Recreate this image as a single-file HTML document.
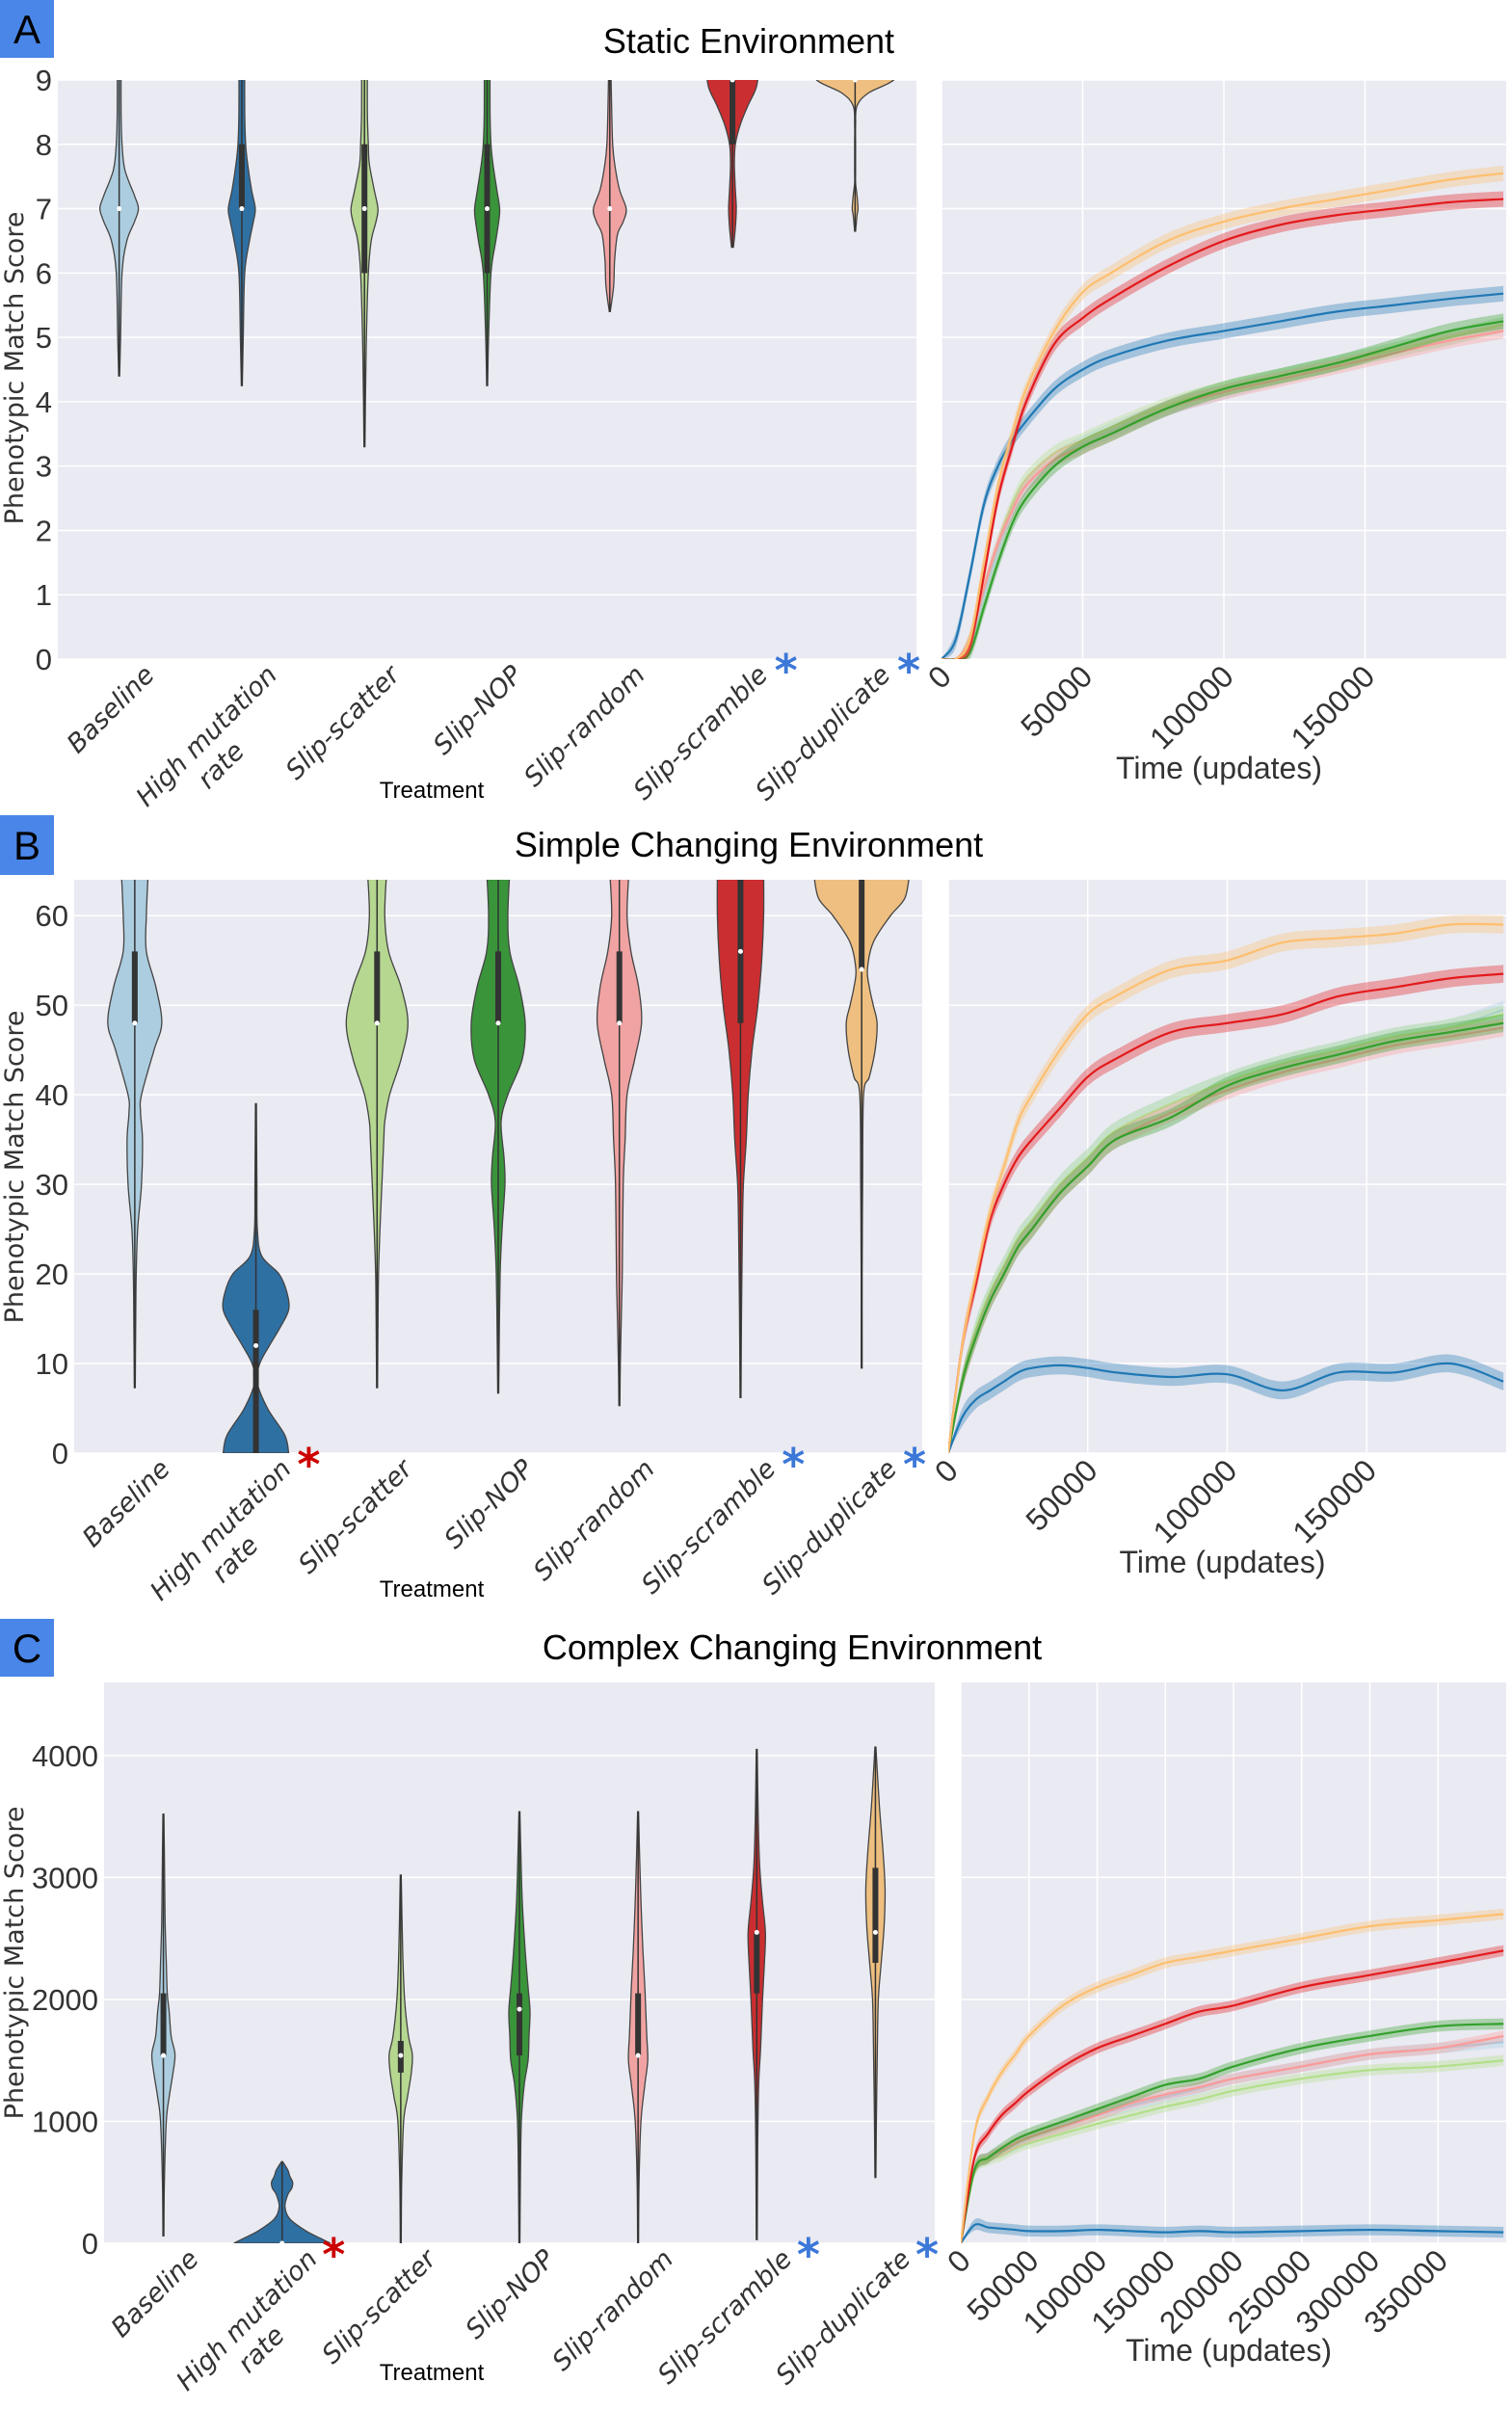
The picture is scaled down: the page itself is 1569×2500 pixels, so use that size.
<!DOCTYPE html>
<html><head><meta charset="utf-8"><style>
html,body{margin:0;padding:0;background:#fff;}
svg{display:block;}
.cond{font-family:"Liberation Sans Narrow","Liberation Sans",sans-serif;}
.dv{font-family:"DejaVu Sans","Liberation Sans",sans-serif;}
</style></head><body>
<svg id="fig" width="1569" height="2500" viewBox="0 0 1569 2500" xmlns="http://www.w3.org/2000/svg">
<g id="root"></g>
</svg>
<script>
// ---------- DATA ----------
const categories = ["Baseline","High mutation\nrate","Slip-scatter","Slip-NOP","Slip-random","Slip-scramble","Slip-duplicate"];
const colors = ["#a6cee3","#1f78b4","#b2df8a","#33a02c","#fb9a99","#e31a1c","#fdbf6f"];
const violinColors = ["#accddf","#2f70a3","#b5d790","#3a943a","#f0a3a2","#cb2e30","#eebf80"];

const aY = [
 [4.4,5,6,6.5,6.8,7,7.2,7.6,8,8.5,9.3],
 [4.25,5,6,6.5,6.8,7,7.3,7.7,8,8.5,9.3],
 [3.3,4,5,6,6.5,6.8,7,7.3,7.7,8,8.5,9.3],
 [4.25,5,6,6.5,6.8,7,7.3,7.7,8,8.5,9.3],
 [5.4,5.8,6.2,6.6,6.8,7,7.3,7.7,8,8.5,9.3],
 [6.4,6.7,7,7.3,7.7,8,8.3,8.6,8.9,9.3],
 [6.65,6.9,7,7.2,7.4,7.6,8,8.3,8.6,8.8,9,9.3]];
const aD = [
 [0.5,1.5,3,8,16,20,16,6,3,2,2],
 [0.5,1.5,3,8,12,14,10,6,4,3,3],
 [0.5,1,2,4,7,12,14,10,5,4,3,3],
 [0.5,1.5,4,9,12,13,10,6,4,3,3],
 [0.5,4,5,8,14,17,10,5,3,2,1],
 [1,3,4,3,2,3,8,16,25,28],
 [0.5,2,3,2,0.5,0.5,0.5,0.5,2,14,40,52]];
const aMed = [7,7,7,7,7,9,9];
const aQ1 = [7,7,6,6,7,8,9];
const aQ3 = [7,8,8,8,7,9,9];

const bY = [
 [7.3,15,20,25,30,35,38,40,45,48,52,56,60,65],
 [0,2,5,8,10,12,14,16,18,20,22,25,30,39],
 [7.3,15,20,25,30,35,37,40,44,48,52,56,60,65],
 [6.7,12,20,25,30,33,37,40,44,48,52,56,60,65],
 [5.3,10,15,20,30,35,40,44,48,52,56,60,65],
 [6.2,15,25,30,35,40,45,50,55,60,65],
 [9.5,20,30,40,42,45,48,50,52,54,57,60,62,65]];
const bD = [
 [0.5,1,1.5,3,7,8,6,7,20,28,22,12,12,14],
 [34,30,12,1,4,14,25,34,32,24,6,1.5,1,0.5],
 [0.5,1,1.5,3,5,7,8,13,25,32,25,12,8,10],
 [0.5,1,2,4,7,6,3,10,25,28,22,12,10,12],
 [0.5,1,2,3,4,6,8,16,23,20,12,8,10],
 [0.5,1,2,3,6,8,12,18,22,24,24],
 [0.5,0.5,1,2,8,14,16,12,8,6,12,30,45,50]];
const bMed = [48,12,48,48,48,56,54];
const bQ1 = [48,0,48,48,48,48,54];
const bQ3 = [56,16,56,56,56,64,64];

const cY = [
 [60,500,1000,1200,1400,1550,1700,1900,2050,2300,2550,2800,3200,3520],
 [0,40,100,200,300,400,450,500,550,600,670],
 [0,500,1000,1200,1400,1550,1700,2000,2400,3020],
 [0,500,1000,1300,1500,1700,1900,2100,2400,2800,3200,3540],
 [0,500,1000,1300,1500,1700,1900,2100,2400,2800,3200,3540],
 [30,800,1300,1600,2000,2300,2550,2800,3100,3500,4050],
 [540,1000,1600,2000,2300,2600,2900,3200,3600,4070]];
const cD = [
 [0.5,1,3,6,10,12,8,6,4,3,2,1.5,1,0.5],
 [50,40,25,8,3,6,10,11,8,6,0.5],
 [0.5,1,3,7,11,12,8,4,2,0.5],
 [0.5,1,2,5,9,10,11,9,6,3,1.5,0.5],
 [0.5,1,3,7,10,9,8,7,5,3,1.5,0.5],
 [0.5,1,2,4,6,8,9,6,3,1.5,0.5],
 [0.5,1,2,3,6,9,10,8,4,0.5]];
const cMed = [1540,0,1540,1920,1540,2550,2550];
const cQ1 = [1540,0,1400,1540,1540,2050,2300];
const cQ3 = [2050,0,1660,2050,2050,2550,3080];

const tsXab = [0,5000,10000,15000,20000,25000,30000,40000,50000,60000,80000,100000,120000,140000,160000,180000,199000];
const aSeries = [
 [0,0,0.25,1.0,1.7,2.3,2.7,3.1,3.35,3.55,3.9,4.15,4.4,4.6,4.8,5.0,5.2],
 [0,0.3,1.3,2.4,3.0,3.4,3.7,4.2,4.5,4.7,4.95,5.1,5.25,5.4,5.5,5.6,5.68],
 [0,0,0.3,1.1,1.8,2.4,2.8,3.2,3.4,3.6,3.95,4.2,4.4,4.6,4.8,5.0,5.2],
 [0,0,0.1,0.8,1.5,2.1,2.5,3.0,3.3,3.5,3.9,4.2,4.4,4.6,4.85,5.1,5.25],
 [0,0,0.3,1.1,1.8,2.3,2.7,3.1,3.3,3.5,3.9,4.15,4.35,4.55,4.75,4.95,5.1],
 [0,0,0.2,1.3,2.5,3.3,4.0,4.9,5.3,5.6,6.1,6.5,6.75,6.9,7.0,7.1,7.15],
 [0,0,0.3,1.5,2.7,3.5,4.2,5.1,5.7,6.0,6.5,6.8,7.0,7.15,7.3,7.45,7.55]];
const bSeries = [
 [0,8,14,18,21,24,26,30,33,36,39,41.5,43.5,45,46.5,47.5,49.5],
 [0,4,6,7,8,9,9.5,9.8,9.5,9,8.5,8.8,7,9,9,10,8],
 [0,8,14,18,21,24,26,30,33,36,39,41.5,43.5,45,46.5,47.5,49],
 [0,8,13,17,20,23,25,29,32,35,37.5,41,43,44.5,46,47,48],
 [0,8,13,17,20,23,25,29,32,35,38,40.5,42.5,44,45.5,46.5,47.5],
 [0,12,19,26,30,33,35,38.5,42,44,47,48,49,51,52,53,53.5],
 [0,12,20,27,32,37,40,45,49,51,54,55,57,57.5,58,59,59]];
const tsXc = [0,10000,20000,30000,40000,50000,75000,100000,125000,150000,175000,200000,250000,300000,350000,398000];
const cSeries = [
 [0,600,700,750,800,850,950,1050,1130,1200,1270,1350,1450,1550,1600,1650],
 [0,150,130,120,110,100,100,110,100,90,100,90,100,110,100,90],
 [0,580,680,720,780,820,900,980,1050,1120,1180,1250,1350,1420,1450,1500],
 [0,600,700,780,850,900,1000,1100,1200,1300,1350,1450,1600,1700,1780,1800],
 [0,600,700,760,820,870,960,1050,1150,1220,1280,1350,1450,1550,1600,1700],
 [0,700,900,1050,1150,1250,1450,1600,1700,1800,1900,1950,2100,2200,2300,2400],
 [0,900,1200,1400,1550,1700,1950,2100,2200,2300,2350,2400,2500,2600,2650,2700]];

const aYTicks = [0,1,2,3,4,5,6,7,8,9];
const bYTicks = [0,10,20,30,40,50,60];
const cYTicks = [0,1000,2000,3000,4000];
const abXTicks = [0,50000,100000,150000];
const cXTicks = [0,50000,100000,150000,200000,250000,300000,350000];

// ---------- DRAW ----------
const NS = "http://www.w3.org/2000/svg";
const root = document.getElementById("root");
function el(tag, attrs, parent){
  const e = document.createElementNS(NS, tag);
  for (const k in attrs) e.setAttribute(k, attrs[k]);
  (parent||root).appendChild(e);
  return e;
}
function smoothPath(pts){
  if (pts.length < 2) return "";
  let d = "M"+pts[0][0]+","+pts[0][1];
  for (let i=0;i<pts.length-1;i++){
    const p0=pts[Math.max(0,i-1)], p1=pts[i], p2=pts[i+1], p3=pts[Math.min(pts.length-1,i+2)];
    const c1=[p1[0]+(p2[0]-p0[0])/6, p1[1]+(p2[1]-p0[1])/6];
    const c2=[p2[0]-(p3[0]-p1[0])/6, p2[1]-(p3[1]-p1[1])/6];
    d += " C"+c1[0]+","+c1[1]+" "+c2[0]+","+c2[1]+" "+p2[0]+","+p2[1];
  }
  return d;
}

const panels = [
 {id:"a", letter:"A", letterY:0, letterH:60, title:"Static Environment", titleX:777, titleY:55,
  vx0:60, vx1:951, top:83, bot:684, ymax:9, tx0:977, tx1:1563, xmax:200000,
  Y:aY, D:aD, med:aMed, q1:aQ1, q3:aQ3, series:aSeries, tsx:tsXab, yt:aYTicks, xt:abXTicks,
  band:0.12, redStar:false, treatY:828, timeY:808, ylabY:382},
 {id:"b", letter:"B", letterY:846, letterH:62, title:"Simple Changing Environment", titleX:777, titleY:889,
  vx0:77, vx1:957, top:913, bot:1508, ymax:64, tx0:984, tx1:1563, xmax:200000,
  Y:bY, D:bD, med:bMed, q1:bQ1, q3:bQ3, series:bSeries, tsx:tsXab, yt:bYTicks, xt:abXTicks,
  band:1.0, redStar:true, treatY:1657, timeY:1632, ylabY:1211},
 {id:"c", letter:"C", letterY:1680, letterH:60, title:"Complex Changing Environment", titleX:822, titleY:1722,
  vx0:108, vx1:970, top:1746, bot:2328, ymax:4600, tx0:997, tx1:1563, xmax:400000,
  Y:cY, D:cD, med:cMed, q1:cQ1, q3:cQ3, series:cSeries, tsx:tsXc, yt:cYTicks, xt:cXTicks,
  band:45, redStar:true, treatY:2470, timeY:2450, ylabY:2037}
];

panels.forEach(P=>{
  const g = el("g",{});
  
  
  const yS = v => P.bot - (v/P.ymax)*(P.bot-P.top);
  const cw = (P.vx1-P.vx0)/categories.length;
  const cx = i => P.vx0 + cw*(i+0.5);
  const xS = v => P.tx0 + (v/P.xmax)*(P.tx1-P.tx0);

  const lb = el("rect",{x:0,y:P.letterY,width:56,height:P.letterH,fill:"#4a86e8"},g);
  
  
  const lt = el("text",{x:28,y:P.letterY+P.letterH/2+15,"text-anchor":"middle","font-size":42,class:"cond",fill:"#000"},g);
  lt.textContent = P.letter;
  
  
  const tt = el("text",{x:P.titleX,y:P.titleY,"text-anchor":"middle","font-size":36,class:"cond",fill:"#000"},g);
  tt.textContent = P.title;
  
  

  const vb = el("rect",{x:P.vx0,y:P.top,width:P.vx1-P.vx0,height:P.bot-P.top,fill:"#eaeaf2"},g);
  
  
  const tb = el("rect",{x:P.tx0,y:P.top,width:P.tx1-P.tx0,height:P.bot-P.top,fill:"#eaeaf2"},g);
  
  

  const cp = el("clipPath",{id:"clipv"+P.id},g);
  el("rect",{x:P.vx0,y:P.top,width:P.vx1-P.vx0,height:P.bot-P.top},cp);
  const cp2 = el("clipPath",{id:"clipt"+P.id},g);
  el("rect",{x:P.tx0,y:P.top,width:P.tx1-P.tx0,height:P.bot-P.top},cp2);

  P.yt.forEach(v=>{
    const y = yS(v);
    el("line",{x1:P.vx0,x2:P.vx1,y1:y,y2:y,stroke:"#fff","stroke-width":1.5},g);
    el("line",{x1:P.tx0,x2:P.tx1,y1:y,y2:y,stroke:"#fff","stroke-width":1.5},g);
    const t = el("text",{x:P.vx0-6,y:y+11,"text-anchor":"end","font-size":31,class:"cond",fill:"#333"},g);
    t.textContent = v;
    
    
  });
  P.xt.forEach(v=>{
    const x = xS(v);
    el("line",{x1:x,x2:x,y1:P.top,y2:P.bot,stroke:"#fff","stroke-width":1.5},g);
    const t = el("text",{x:0,y:0,"text-anchor":"end","font-size":32,class:"cond",fill:"#333",
      transform:"translate("+(x+12)+","+(P.bot+20)+") rotate(-45)"},g);
    t.textContent = v;
    
    
  });

  const vg = el("g",{"clip-path":"url(#clipv"+P.id+")"},g);
  categories.forEach((c,i)=>{
    const x0 = cx(i);
    const right = P.Y[i].map((v,k)=>[x0+P.D[i][k], yS(v)]);
    const left = P.Y[i].map((v,k)=>[x0-P.D[i][k], yS(v)]).reverse();
    let d = smoothPath(right) + " L" + left[0][0]+","+left[0][1] + smoothPath(left).replace(/^M[^ ]+/,"") + " Z";
    const vp = el("path",{d:d,fill:violinColors[i],stroke:"#444","stroke-width":1.3},vg);
    
    
    const ymin = P.Y[i][0], ymaxv = P.Y[i][P.Y[i].length-1];
    el("line",{x1:x0,x2:x0,y1:yS(ymin),y2:yS(ymaxv),stroke:"#333","stroke-width":1.5},vg);
    if (P.q3[i] > P.q1[i]) {
      const bx = el("line",{x1:x0,x2:x0,y1:yS(P.q1[i]),y2:yS(P.q3[i]),stroke:"#333","stroke-width":6},vg);
      
      
    }
    const md = el("circle",{cx:x0,cy:yS(P.med[i]),r:2.5,fill:"#fff"},vg);
    
    

    const lines = c.split("\n");
    const tg = el("text",{x:0,y:0,"text-anchor":"end","font-size":27,class:"dv","font-style":"italic",fill:"#333",
      transform:"translate("+(x0+38)+","+(P.bot+18)+") rotate(-45)"},g);
    
    
    if (lines.length===1){ tg.textContent = c; }
    else {
      const s1 = el("tspan",{x:0,y:0},tg); s1.textContent = lines[0];
      const s2 = el("tspan",{x:-80,y:32},tg); s2.textContent = lines[1];
    }
  });

  const starBlue = [5,6];
  starBlue.forEach(i=>{
    const s = el("text",{x:P.vx0+cw*(i+1)-8,y:P.bot+28,"text-anchor":"middle","font-size":46,"font-weight":"bold",class:"dv",fill:"#3c78d8"},g);
    s.textContent = "*";
    
    
  });
  if (P.redStar){
    const s = el("text",{x:P.vx0+cw*2-8,y:P.bot+28,"text-anchor":"middle","font-size":46,"font-weight":"bold",class:"dv",fill:"#cc0000"},g);
    s.textContent = "*";
    
    
  }

  const tg2 = el("g",{"clip-path":"url(#clipt"+P.id+")"},g);
  const order = [0,2,4,3,1,5,6];
  order.forEach(si=>{
    const vals = P.series[si];
    const up = vals.map((v,k)=>[xS(P.tsx[k]), yS(v+ (v>0?P.band:0))]);
    const dn = vals.map((v,k)=>[xS(P.tsx[k]), yS(Math.max(0,v-P.band))]).reverse();
    const bd = smoothPath(up)+" L"+dn[0][0]+","+dn[0][1]+smoothPath(dn).replace(/^M[^ ]+/,"")+" Z";
    const bp = el("path",{d:bd,fill:colors[si],opacity:0.35},tg2);
    
    
    const pts = vals.map((v,k)=>[xS(P.tsx[k]), yS(v)]);
    const lp = el("path",{d:smoothPath(pts),fill:"none",stroke:colors[si],"stroke-width":2.2},tg2);
    
    
  });

  const tr = el("text",{x:448,y:P.treatY,"text-anchor":"middle","font-size":24,class:"cond",fill:"#000"},g);
  tr.textContent = "Treatment";
  
  
  const ti = el("text",{x:(P.tx0+P.tx1)/2-5,y:P.timeY,"text-anchor":"middle","font-size":32,class:"cond",fill:"#333"},g);
  ti.textContent = "Time (updates)";
  
  
  const yl = el("text",{x:0,y:0,"text-anchor":"middle","font-size":27,class:"dv",fill:"#333",
    transform:"translate(24,"+P.ylabY+") rotate(-90)"},g);
  yl.textContent = "Phenotypic Match Score";
  
  
});
</script>
</body></html>
